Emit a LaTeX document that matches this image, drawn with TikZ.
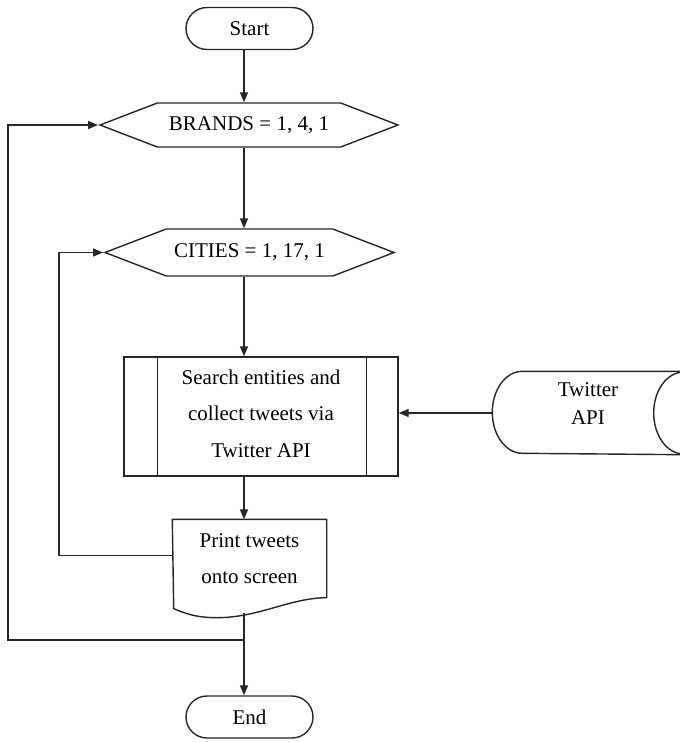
\documentclass[tikz,border=0pt]{standalone}
\usepackage{fontspec}
\setmainfont{Liberation Serif}
\usetikzlibrary{shapes.symbols, arrows.meta}

\tikzset{
  base/.style={draw=black!85, line width=1.4pt, inner sep=0pt, align=center,
    font=\fontsize{21}{36.5}\selectfont},
  term/.style={base, rectangle, rounded corners=21pt, minimum width=127pt, minimum height=42pt},
  loophex/.style={base, signal, signal to=west and east, signal pointer angle=42},
  procbox/.style={base, rectangle, minimum width=274pt, minimum height=119pt},
  docnode/.style={base, draw=none, minimum width=153pt, minimum height=77pt},
  store/.style={base, draw=none, minimum width=190pt, minimum height=82pt,
    font=\fontsize{21}{28}\selectfont},
  wire/.style={draw=black!85, line width=1.4pt},
  flow/.style={wire, -{Triangle[length=10pt,width=8pt]}}
}

\begin{document}
\begin{tikzpicture}[x=1pt, y=1pt]
    \useasboundingbox (0,0) rectangle (680,-742);
    \clip (0,0) rectangle (680,-742);

    % guide lines for the connectors
    \coordinate (spine) at (244,0);
    \coordinate (outer) at (8,0);
    \coordinate (inner) at (59,0);
    \coordinate (join) at (244,-640);

    % main column
    \node[term] (start) at (249.5,-28.5) {Start};
    \node[loophex, minimum width=298pt, minimum height=44pt] (brands) at (249,-125) {BRANDS = 1, 4, 1};
    \node[loophex, minimum width=289pt, minimum height=47pt] (cities) at (249.5,-252.5) {CITIES = 1, 17, 1};
    \node[procbox, text depth=6pt] (search) at (261,-416.5) {Search entities and\\collect tweets via\\Twitter API};
    \draw[wire] ([xshift=34pt]search.north west) -- ([xshift=34pt]search.south west)
                ([xshift=-32pt]search.north east) -- ([xshift=-32pt]search.south east);

    % document with wavy bottom
    \node[docnode, text depth=0pt] (print) at (249.5,-558.5) {Print tweets\\onto screen};
    \draw[wire] (print.north west) -- (print.north east) -- (print.south east)
        .. controls +(-36,0) and +(42,0) .. ++(-110,-20) coordinate[pos=0.7] (wave)
        .. controls +(-22,0) and +(10,-4) .. ++(-43,9) -- cycle;

    \node[term] (end) at (249.5,-717) {End};

    % stored data
    \node[store, text depth=18pt] (api) at (588,-413) {Twitter\\API};
    \draw[wire] (api.north east) -- ([xshift=30pt]api.north west)
        arc[start angle=90, end angle=270, x radius=30pt, y radius=41pt] -- (api.south east);
    \draw[wire] (api.east) ellipse [x radius=30pt, y radius=41pt];

    % connectors
    \draw[flow] (start.south -| spine) -- (brands.north -| spine);
    \draw[flow] (brands.south -| spine) -- (cities.north -| spine);
    \draw[flow] (cities.south -| spine) -- (search.north -| spine);
    \draw[flow] (search.south -| spine) -- (print.north -| spine);
    \draw[flow] (wave -| spine) -- (end.north -| spine);
    \draw[flow] (api.west) -- (api.west -| search.east);
    \draw[flow] ([yshift=3pt]print.west) -- ([yshift=3pt]print.west -| inner) |- (cities.west);
    \draw[flow] (join) -- (join -| outer) |- (brands.west);
\end{tikzpicture}
\end{document}
